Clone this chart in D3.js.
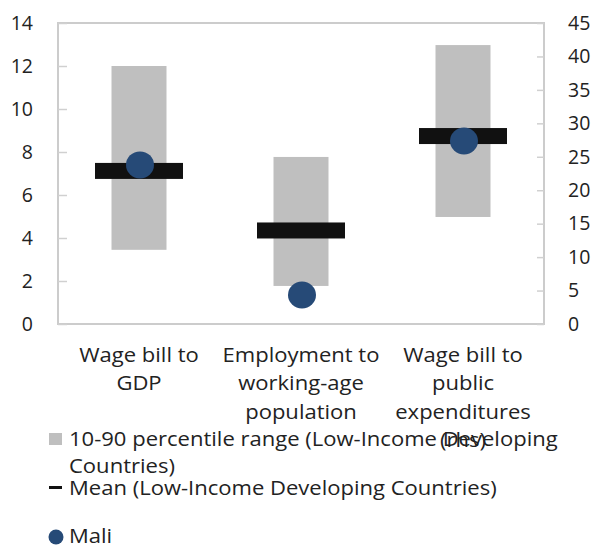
<!DOCTYPE html>
<html><head><meta charset="utf-8">
<script src="https://cdn.jsdelivr.net/npm/d3@7"></script>
<style>body{margin:0;background:#fff}svg{display:block}text{font-family:"Open Sans","Noto Sans",sans-serif;fill:#222}</style>
</head><body><svg id="c" width="594" height="546"></svg>
<script>
const categories = ["Wage bill to GDP", "Employment to working-age population", "Wage bill to public expenditures (rhs)"];
const categoryLines = [["Wage bill to","GDP"],["Employment to","working-age","population"],["Wage bill to","public","expenditures","(rhs)"]];
const axisSide = ["left","left","right"];
const p10 = [3.45, 1.77, 16.0];
const p90 = [12.0, 7.77, 41.7];
const meanVals = [7.12, 4.35, 28.1];
const maliVals = [7.4, 1.35, 27.35];
const leftTicks = [0,2,4,6,8,10,12,14];
const rightTicks = [0,5,10,15,20,25,30,35,40,45];
const legendItems = ["10-90 percentile range (Low-Income Developing|Countries)", "Mean (Low-Income Developing Countries)", "Mali"];

const svg = d3.select("#c");
const L = 58, R = 544, T = 23, B = 324;
const SX = 1.13, FS = 19.5;
const x = d3.scaleBand().domain(categories).range([L, R]);
const yL = d3.scaleLinear().domain([0,14]).range([B,T]);
const yR = d3.scaleLinear().domain([0,45]).range([B,T]);
const ys = i => axisSide[i] === "left" ? yL : yR;
const cx = i => x(categories[i]) + x.bandwidth()/2;

// frame
svg.append("rect").attr("x",L).attr("y",T).attr("width",R-L).attr("height",B-T)
  .attr("fill","none").attr("stroke","#cccccc").attr("stroke-width",2);

// left axis
const gL = svg.append("g").attr("transform",`translate(${L},0)`)
  .call(d3.axisRight(yL).tickValues(leftTicks).tickSize(9).tickPadding(0).tickFormat(d3.format("d")));
gL.select(".domain").remove();
gL.selectAll(".tick line").attr("stroke","#d0d0d0").attr("stroke-width",1.5);
gL.selectAll(".tick text").attr("x",-25).attr("text-anchor","end").attr("font-size",FS).attr("fill","#222");

const gR = svg.append("g").attr("transform",`translate(${R},0)`)
  .call(d3.axisLeft(yR).tickValues(rightTicks).tickSize(7).tickPadding(0).tickFormat(d3.format("d")));
gR.select(".domain").remove();
gR.selectAll(".tick line").attr("stroke","#d0d0d0").attr("stroke-width",1.5);
gR.selectAll(".tick text").attr("x",24).attr("text-anchor","start").attr("font-size",FS).attr("fill","#222");

// range bars
const bw = 55, mw = 88, mh = 16, r = 13.5;
categories.forEach((c,i) => {
  const y = ys(i);
  svg.append("rect").attr("x",cx(i)-bw/2).attr("y",y(p90[i])).attr("width",bw)
    .attr("height",y(p10[i])-y(p90[i])).attr("fill","#bfbfbf");
});
categories.forEach((c,i) => {
  const y = ys(i);
  svg.append("rect").attr("x",cx(i)-mw/2).attr("y",y(meanVals[i])-mh/2).attr("width",mw)
    .attr("height",mh).attr("fill","#111");
});
categories.forEach((c,i) => {
  const y = ys(i);
  svg.append("ellipse").attr("cx",cx(i)+1).attr("cy",y(maliVals[i])).attr("rx",r+0.5).attr("ry",r)
    .attr("fill","#264a77");
});

// stretched text helper
function stext(px, py, lines, anchor, lh) {
  const t = svg.append("text").attr("transform",`translate(${px},${py}) scale(${SX},1)`)
    .attr("text-anchor",anchor).attr("font-size",FS).attr("fill","#222");
  lines.forEach((ln,j) => t.append("tspan").attr("x",0).attr("y",j*lh).text(ln));
  return t;
}

// category labels
categoryLines.forEach((lines,i) => stext(cx(i), 362, lines, "middle", 28.5));

// legend
svg.append("rect").attr("x",49).attr("y",433).attr("width",13).attr("height",12).attr("fill","#bfbfbf");
stext(69, 446, legendItems[0].split("|"), "start", 27);
svg.append("rect").attr("x",49).attr("y",486).attr("width",13).attr("height",3).attr("fill","#111");
stext(69, 495, [legendItems[1]], "start", 27);
svg.append("circle").attr("cx",56).attr("cy",537).attr("r",7.5).attr("fill","#264a77");
stext(69, 543, [legendItems[2]], "start", 27);
</script></body></html>
